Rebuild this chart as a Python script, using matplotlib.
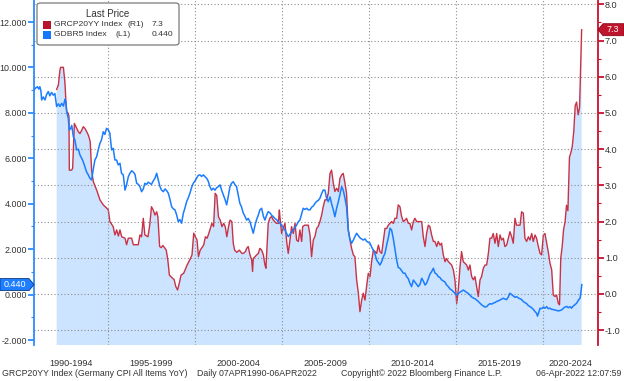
import matplotlib
matplotlib.use("Agg")
import matplotlib.pyplot as plt
from matplotlib.patches import Polygon, FancyBboxPatch, Rectangle
from matplotlib.ticker import MultipleLocator, FixedLocator, FixedFormatter, NullFormatter, FuncFormatter

plt.rcParams['font.family'] = ['Liberation Sans', 'DejaVu Sans']

# GRCP20YY Index (Germany CPI YoY) - right axis
cpi_year = [1992.05, 1992.15, 1992.24, 1992.28, 1992.44, 1992.53, 1992.59, 1992.63, 1992.72, 1992.76,
            1992.78, 1992.91, 1992.97, 1993.07, 1993.16, 1993.30, 1993.39, 1993.49, 1993.58, 1993.68,
            1993.78, 1993.87, 1993.93, 1993.98, 1994.06, 1994.16, 1994.35, 1994.54, 1994.73, 1994.93,
            1995.02, 1995.11, 1995.30, 1995.40, 1995.50, 1995.60, 1995.69, 1995.79, 1995.98, 1996.07,
            1996.17, 1996.36, 1996.46, 1996.74, 1996.84, 1996.93, 1997.03, 1997.12, 1997.30, 1997.40,
            1997.50, 1997.60, 1997.70, 1997.80, 1997.87, 1997.97, 1998.06, 1998.15, 1998.25, 1998.35,
            1998.44, 1998.53, 1998.72, 1998.80, 1998.90, 1999.00, 1999.10, 1999.20, 1999.35, 1999.55,
            1999.74, 1999.83, 1999.93, 2000.02, 2000.12, 2000.20, 2000.30, 2000.50, 2000.60, 2000.70,
            2000.80, 2000.88, 2000.97, 2001.07, 2001.16, 2001.25, 2001.35, 2001.45, 2001.55, 2001.65,
            2001.74, 2001.83, 2001.93, 2002.02, 2002.12, 2002.20, 2002.28, 2002.40, 2002.55, 2002.70,
            2002.78, 2002.90, 2002.97, 2003.06, 2003.16, 2003.26, 2003.31, 2003.35, 2003.45, 2003.55,
            2003.64, 2003.73, 2003.83, 2003.93, 2004.02, 2004.08, 2004.12, 2004.21, 2004.30, 2004.40,
            2004.50, 2004.60, 2004.69, 2004.79, 2004.85, 2004.88, 2004.98, 2005.07, 2005.17, 2005.27,
            2005.36, 2005.46, 2005.55, 2005.65, 2005.75, 2005.84, 2005.94, 2006.03, 2006.13, 2006.19,
            2006.30, 2006.42, 2006.51, 2006.61, 2006.70, 2006.80, 2006.90, 2006.99, 2007.08, 2007.18,
            2007.28, 2007.37, 2007.47, 2007.56, 2007.66, 2007.76, 2007.85, 2007.95, 2008.04, 2008.14,
            2008.24, 2008.33, 2008.43, 2008.52, 2008.62, 2008.71, 2008.81, 2008.91, 2009.00, 2009.10,
            2009.19, 2009.29, 2009.39, 2009.48, 2009.58, 2009.67, 2009.77, 2009.86, 2009.96, 2010.06,
            2010.15, 2010.25, 2010.35, 2010.44, 2010.54, 2010.63, 2010.73, 2010.82, 2010.92, 2011.02,
            2011.11, 2011.20, 2011.30, 2011.40, 2011.49, 2011.59, 2011.68, 2011.78, 2011.87, 2011.97,
            2012.07, 2012.16, 2012.26, 2012.35, 2012.45, 2012.55, 2012.64, 2012.74, 2012.84, 2012.93,
            2013.03, 2013.12, 2013.22, 2013.31, 2013.41, 2013.50, 2013.60, 2013.70, 2013.79, 2013.89,
            2013.98, 2014.08, 2014.17, 2014.27, 2014.37, 2014.46, 2014.56, 2014.65, 2014.75, 2014.85,
            2014.94, 2015.04, 2015.13, 2015.23, 2015.32, 2015.42, 2015.51, 2015.61, 2015.71, 2015.80,
            2015.90, 2016.00, 2016.09, 2016.19, 2016.28, 2016.38, 2016.47, 2016.57, 2016.67, 2016.76,
            2016.86, 2016.95, 2017.05, 2017.14, 2017.24, 2017.34, 2017.43, 2017.53, 2017.62, 2017.72,
            2017.81, 2017.91, 2018.01, 2018.10, 2018.20, 2018.29, 2018.39, 2018.48, 2018.58, 2018.68,
            2018.77, 2018.87, 2018.96, 2019.06, 2019.16, 2019.25, 2019.35, 2019.44, 2019.54, 2019.63,
            2019.73, 2019.83, 2019.92, 2020.02, 2020.11, 2020.21, 2020.30, 2020.40, 2020.50, 2020.59,
            2020.69, 2020.78, 2020.88, 2020.95, 2021.02, 2021.10, 2021.18, 2021.27, 2021.35, 2021.43,
            2021.52, 2021.60, 2021.68, 2021.77, 2021.85, 2021.93, 2022.02, 2022.10, 2022.22]
cpi_yoy = [5.65, 5.77, 6.18, 6.26, 6.26, 5.82, 5.26, 5.03, 4.99, 4.90,
           3.42, 3.42, 3.47, 4.71, 4.62, 4.48, 4.43, 4.52, 4.62, 4.57,
           4.48, 4.39, 4.30, 4.20, 3.42, 3.10, 2.87, 2.60, 2.46, 2.37,
           2.32, 2.00, 1.86, 1.63, 1.77, 1.60, 1.77, 1.58, 1.54, 1.36,
           1.54, 1.54, 1.36, 1.36, 1.63, 1.58, 2.09, 1.63, 1.58, 1.90,
           2.41, 2.32, 2.18, 2.27, 2.13, 1.31, 1.28, 1.34, 1.28, 1.21,
           0.94, 0.52, 0.43, 0.40, 0.20, 0.11, 0.30, 0.52, 0.57, 0.80,
           0.98, 1.08, 1.68, 1.58, 1.49, 1.03, 1.21, 1.35, 1.58, 1.54,
           1.68, 1.81, 1.95, 1.86, 2.78, 2.72, 2.13, 2.04, 1.86, 1.95,
           1.86, 1.58, 1.86, 2.04, 2.00, 1.40, 1.21, 1.15, 1.21, 1.12,
           1.12, 1.17, 1.26, 1.31, 1.08, 0.94, 0.62, 0.98, 1.03, 1.08,
           1.12, 1.26, 1.21, 1.08, 0.80, 0.71, 1.12, 1.95, 2.09, 2.14,
           2.04, 1.99, 1.95, 1.95, 2.32, 2.14, 1.67, 1.81, 1.95, 1.45,
           1.12, 1.49, 1.86, 1.67, 1.95, 1.49, 1.45, 1.77, 1.45, 1.86,
           1.90, 1.90, 1.90, 1.63, 1.03, 1.49, 1.60, 1.81, 1.86, 2.00,
           2.18, 2.41, 2.60, 2.60, 2.78, 3.33, 3.42, 3.06, 2.83, 2.92,
           2.83, 3.19, 3.29, 3.33, 3.06, 2.78, 1.77, 1.49, 1.26, 1.08,
           1.03, 0.39, 0.02, -0.49, -0.17, 0.02, -0.17, 0.20, 0.57, 0.48,
           0.89, 1.21, 1.17, 1.12, 1.35, 1.17, 1.12, 1.45, 1.81, 1.81,
           1.90, 1.95, 2.00, 1.95, 2.09, 2.09, 2.46, 2.41, 2.15, 2.00,
           2.04, 2.09, 1.95, 1.95, 1.77, 2.00, 2.09, 2.00, 2.00, 2.00,
           2.00, 1.58, 1.31, 1.67, 1.90, 1.86, 1.63, 1.45, 1.45, 1.31,
           1.45, 1.35, 1.40, 1.08, 0.89, 0.98, 0.89, 0.85, 0.80, 0.66,
           0.39, -0.26, 0.11, 0.75, 1.17, 0.89, 0.85, 0.80, 0.66, 0.80,
           0.48, 0.39, 0.48, 0.20, -0.07, 0.39, 0.48, 0.71, 0.80, 0.80,
           1.12, 1.54, 1.54, 1.67, 1.40, 1.67, 1.31, 1.63, 1.49, 1.54,
           1.31, 1.35, 1.54, 1.72, 1.58, 1.40, 2.09, 1.90, 1.90, 1.90,
           2.27, 2.23, 1.54, 1.45, 1.58, 1.49, 1.67, 1.45, 1.63, 1.54,
           1.31, 1.12, 1.08, 1.63, 1.67, 1.40, 1.17, 0.85, 0.66, -0.03,
           -0.07, -0.03, -0.26, -0.30, 0.99, 1.30, 1.77, 2.00, 2.45, 2.30,
           3.78, 3.90, 4.07, 4.50, 5.20, 5.30, 4.95, 5.15, 7.30]

# GDBR5 Index (German 5Y yield) - left axis
bund_year = [1990.75, 1990.85, 1990.95, 1991.02, 1991.09, 1991.15, 1991.19, 1991.28, 1991.38, 1991.47,
             1991.57, 1991.66, 1991.76, 1991.86, 1991.95, 1992.05, 1992.15, 1992.24, 1992.34, 1992.44,
             1992.53, 1992.58, 1992.63, 1992.72, 1992.78, 1992.85, 1992.92, 1993.01, 1993.10, 1993.20,
             1993.30, 1993.39, 1993.49, 1993.58, 1993.68, 1993.77, 1993.87, 1993.96, 1994.06, 1994.15,
             1994.25, 1994.35, 1994.44, 1994.54, 1994.63, 1994.73, 1994.82, 1994.92, 1995.02, 1995.11,
             1995.21, 1995.30, 1995.40, 1995.50, 1995.59, 1995.69, 1995.78, 1995.88, 1995.98, 1996.07,
             1996.17, 1996.26, 1996.36, 1996.45, 1996.55, 1996.65, 1996.75, 1996.84, 1996.93, 1997.03,
             1997.12, 1997.22, 1997.31, 1997.41, 1997.50, 1997.60, 1997.70, 1997.80, 1997.89, 1997.99,
             1998.08, 1998.18, 1998.28, 1998.37, 1998.47, 1998.56, 1998.66, 1998.75, 1998.85, 1998.95,
             1999.04, 1999.13, 1999.23, 1999.33, 1999.42, 1999.52, 1999.61, 1999.71, 1999.80, 1999.90,
             2000.00, 2000.09, 2000.19, 2000.29, 2000.38, 2000.48, 2000.57, 2000.67, 2000.76, 2000.86,
             2000.95, 2001.05, 2001.15, 2001.24, 2001.34, 2001.44, 2001.53, 2001.63, 2001.72, 2001.82,
             2001.91, 2002.01, 2002.10, 2002.20, 2002.29, 2002.39, 2002.48, 2002.58, 2002.68, 2002.77,
             2002.87, 2002.97, 2003.06, 2003.16, 2003.26, 2003.35, 2003.45, 2003.54, 2003.64, 2003.73,
             2003.83, 2003.93, 2004.02, 2004.12, 2004.21, 2004.31, 2004.40, 2004.50, 2004.59, 2004.69,
             2004.78, 2004.88, 2004.97, 2005.07, 2005.17, 2005.26, 2005.36, 2005.45, 2005.55, 2005.65,
             2005.74, 2005.84, 2005.93, 2006.03, 2006.13, 2006.22, 2006.32, 2006.42, 2006.51, 2006.61,
             2006.71, 2006.80, 2006.90, 2006.99, 2007.09, 2007.18, 2007.28, 2007.37, 2007.47, 2007.56,
             2007.66, 2007.76, 2007.85, 2007.95, 2008.04, 2008.14, 2008.24, 2008.33, 2008.43, 2008.52,
             2008.62, 2008.71, 2008.81, 2008.90, 2009.00, 2009.10, 2009.19, 2009.29, 2009.38, 2009.48,
             2009.57, 2009.67, 2009.77, 2009.86, 2009.96, 2010.06, 2010.15, 2010.25, 2010.34, 2010.44,
             2010.54, 2010.63, 2010.73, 2010.82, 2010.92, 2011.02, 2011.11, 2011.21, 2011.30, 2011.40,
             2011.49, 2011.59, 2011.68, 2011.78, 2011.88, 2011.97, 2012.07, 2012.16, 2012.26, 2012.35,
             2012.45, 2012.55, 2012.64, 2012.74, 2012.83, 2012.93, 2013.03, 2013.12, 2013.22, 2013.31,
             2013.41, 2013.50, 2013.60, 2013.70, 2013.79, 2013.89, 2013.98, 2014.08, 2014.17, 2014.27,
             2014.37, 2014.46, 2014.56, 2014.65, 2014.75, 2014.85, 2014.94, 2015.04, 2015.13, 2015.23,
             2015.32, 2015.42, 2015.51, 2015.61, 2015.70, 2015.80, 2015.89, 2015.99, 2016.09, 2016.19,
             2016.28, 2016.38, 2016.47, 2016.57, 2016.66, 2016.76, 2016.86, 2016.95, 2017.05, 2017.14,
             2017.24, 2017.34, 2017.43, 2017.53, 2017.62, 2017.72, 2017.81, 2017.91, 2018.01, 2018.10,
             2018.20, 2018.29, 2018.39, 2018.48, 2018.58, 2018.68, 2018.77, 2018.87, 2018.96, 2019.06,
             2019.15, 2019.25, 2019.35, 2019.44, 2019.54, 2019.63, 2019.68, 2019.73, 2019.83, 2019.92,
             2020.02, 2020.11, 2020.21, 2020.30, 2020.40, 2020.50, 2020.59, 2020.69, 2020.78, 2020.88,
             2020.97, 2021.07, 2021.17, 2021.26, 2021.36, 2021.45, 2021.55, 2021.64, 2021.74, 2021.83,
             2021.93, 2022.03, 2022.13, 2022.18, 2022.21, 2022.23]
bund_yield = [9.01, 9.10, 9.15, 9.05, 9.15, 8.95, 8.57, 8.70, 8.57, 8.80,
              8.94, 8.75, 8.90, 8.78, 8.85, 8.28, 8.40, 8.28, 8.42, 8.30,
              8.60, 8.50, 8.05, 7.76, 7.25, 7.30, 7.45, 6.95, 6.81, 6.37,
              6.40, 6.15, 6.00, 5.85, 5.62, 5.40, 5.27, 5.12, 5.05, 5.49,
              5.93, 6.07, 6.37, 6.66, 6.81, 7.17, 7.05, 7.32, 7.25, 7.10,
              6.37, 6.44, 5.93, 5.92, 5.71, 5.78, 5.34, 5.27, 4.60, 4.83,
              5.19, 5.34, 5.45, 5.40, 5.30, 4.90, 4.85, 4.75, 4.53, 4.65,
              4.90, 4.85, 4.95, 4.90, 4.85, 5.00, 5.12, 5.34, 5.05, 4.75,
              4.60, 4.53, 4.65, 4.58, 4.46, 4.20, 3.87, 3.78, 3.73, 3.50,
              3.21, 3.30, 3.14, 3.58, 3.80, 4.09, 4.25, 4.46, 4.70, 4.90,
              5.00, 5.12, 5.25, 5.27, 5.20, 5.27, 5.20, 5.12, 5.00, 4.75,
              4.60, 4.68, 4.60, 4.70, 4.75, 4.83, 4.60, 4.39, 4.20, 3.95,
              4.31, 4.75, 4.90, 4.97, 4.85, 4.75, 4.40, 4.02, 3.85, 3.60,
              3.45, 3.28, 3.35, 3.21, 2.95, 2.70, 3.05, 3.30, 3.50, 3.73,
              3.80, 3.45, 3.28, 3.50, 3.65, 3.60, 3.50, 3.43, 3.35, 3.30,
              3.20, 3.14, 3.05, 2.95, 2.84, 2.70, 2.55, 2.65, 2.75, 2.84,
              2.95, 3.06, 3.20, 3.28, 3.55, 3.80, 3.75, 3.80, 3.73, 3.73,
              3.85, 3.90, 4.02, 4.10, 4.15, 4.24, 4.45, 4.60, 4.60, 4.25,
              4.09, 4.30, 4.00, 3.73, 3.43, 3.80, 4.09, 4.40, 4.75, 4.60,
              4.24, 3.87, 2.84, 2.45, 2.26, 2.40, 2.55, 2.70, 2.60, 2.50,
              2.45, 2.40, 2.45, 2.35, 2.30, 2.26, 2.10, 1.95, 1.80, 1.52,
              1.40, 1.30, 1.45, 1.65, 1.82, 2.20, 2.50, 2.92, 2.84, 2.45,
              2.00, 1.52, 1.20, 1.15, 1.05, 0.94, 0.94, 0.79, 0.70, 0.50,
              0.35, 0.64, 0.55, 0.45, 0.35, 0.45, 0.72, 0.60, 0.42, 0.50,
              0.70, 0.90, 1.01, 1.16, 0.95, 0.90, 0.79, 0.75, 0.65, 0.60,
              0.55, 0.42, 0.35, 0.25, 0.20, 0.13, 0.05, -0.02, 0.05, 0.10,
              0.15, 0.20, 0.15, 0.10, 0.05, -0.02, -0.10, -0.15, -0.18, -0.24,
              -0.30, -0.38, -0.45, -0.50, -0.55, -0.53, -0.45, -0.40, -0.42, -0.38,
              -0.35, -0.30, -0.28, -0.24, -0.20, -0.16, -0.20, -0.22, -0.10, 0.06,
              0.00, -0.05, -0.12, -0.09, -0.15, -0.18, -0.22, -0.31, -0.35, -0.40,
              -0.48, -0.53, -0.58, -0.65, -0.75, -0.82, -0.95, -0.85, -0.60, -0.62,
              -0.55, -0.60, -0.53, -0.62, -0.60, -0.65, -0.66, -0.68, -0.70, -0.72,
              -0.70, -0.68, -0.60, -0.55, -0.52, -0.58, -0.53, -0.60, -0.50, -0.45,
              -0.38, -0.25, -0.16, 0.10, 0.30, 0.44]

cpi_last = 7.3
bund_last = 0.440
period_edges = [1995, 2000, 2005, 2010, 2015, 2020]
period_labels = ['1990-1994', '1995-1999', '2000-2004', '2005-2009', '2010-2014', '2015-2019', '2020-2024']

W, H = 624, 381
RED_LINE = '#C83246'
RED_AXIS = '#C8102E'
BLUE_LINE = '#1A7CFF'
BLUE_AXIS = '#2E8BFF'
FILL = '#CCE4FF'
GRID = '#8E8E8E'
TXT = '#333333'


def px(x, y):
    # pixel position (from top-left) -> figure fraction
    return x / W, 1 - y / H


fig = plt.figure(figsize=(W / 100, H / 100), dpi=100)
ax_l = fig.add_axes([34 / W, 1 - 345 / H, (598 - 34) / W, 345 / H])
ax_r = ax_l.twinx()

# red series + fill sit underneath the blue line
ax_l.set_zorder(2)
ax_r.set_zorder(1)
ax_l.patch.set_visible(False)
ax_r.patch.set_visible(True)
ax_r.patch.set_facecolor('white')

x0, x1 = 1990.75, 2023.16
ax_l.set_xlim(x0, x1)
ax_l.set_ylim(-2.22, 12.97)
ax_r.set_ylim(-1.41, 8.12)

ax_r.fill_between(cpi_year, cpi_yoy, -5, color=FILL, lw=0, zorder=0.2)
ax_r.plot(cpi_year, cpi_yoy, color=RED_LINE, lw=1.0, zorder=2)
ax_l.plot(bund_year, bund_yield, color=BLUE_LINE, lw=1.1, zorder=3)

# spines
for s in ['top', 'bottom', 'right']:
    ax_l.spines[s].set_visible(False)
for s in ['top', 'bottom', 'left']:
    ax_r.spines[s].set_visible(False)
ax_l.spines['left'].set_color(BLUE_AXIS)
ax_l.spines['left'].set_linewidth(1.3)
ax_r.spines['right'].set_color(RED_AXIS)
ax_r.spines['right'].set_linewidth(1.3)

# left axis ticks
ax_l.yaxis.set_major_locator(MultipleLocator(2))
ax_l.yaxis.set_minor_locator(MultipleLocator(1))
ax_l.yaxis.set_major_formatter(FuncFormatter(lambda v, p: f"{v:.3f}"))
ax_l.tick_params(axis='y', which='major', length=4, width=1.3, color=BLUE_AXIS,
                 labelcolor=TXT, labelsize=6.4, pad=1)
ax_l.tick_params(axis='y', which='minor', length=2.5, width=0.8, color=BLUE_AXIS)

# right axis ticks
ax_r.yaxis.set_major_locator(MultipleLocator(1))
ax_r.yaxis.set_minor_locator(MultipleLocator(0.5))
ax_r.yaxis.set_major_formatter(FuncFormatter(lambda v, p: f"{v:.1f}"))
ax_r.tick_params(axis='y', which='major', length=4, width=1.3, color=RED_AXIS,
                 labelcolor=TXT, labelsize=6.6, pad=1)
ax_r.tick_params(axis='y', which='minor', length=2.5, width=0.8, color=RED_AXIS)
ax_r.yaxis.grid(True, which='major', color=GRID, linestyle=(0, (1, 2)), lw=0.8)
ax_r.set_axisbelow(True)

# x axis: grid at period boundaries, labels centred in each period
edges = [x0] + period_edges + [x1]
mids = [(a + b) / 2 for a, b in zip(edges[:-1], edges[1:])]
ax_l.xaxis.set_major_locator(FixedLocator(period_edges))
ax_l.xaxis.set_major_formatter(NullFormatter())
ax_l.xaxis.set_minor_locator(FixedLocator(mids))
ax_l.xaxis.set_minor_formatter(FixedFormatter(period_labels))
ax_l.tick_params(axis='x', which='both', length=0, labelsize=6.6, labelcolor=TXT, pad=10)
ax_l.xaxis.grid(True, which='major', color=GRID, linestyle=(0, (1, 2)), lw=0.8)
ax_l.set_axisbelow(True)

# legend box
box = FancyBboxPatch(px(37, 45), 142 / W, 42 / H, boxstyle='round,pad=0,rounding_size=0.006',
                     transform=fig.transFigure, facecolor='white', edgecolor='#7a7a7a', lw=0.9, zorder=10)
fig.add_artist(box)
fig.text(*px(108, 14), 'Last Price', ha='center', va='center', fontsize=7, color=TXT, zorder=11)
fig.add_artist(Rectangle(px(43, 28.5), 8 / W, 8 / H, transform=fig.transFigure,
                         facecolor='#B8142E', edgecolor='none', zorder=11))
fig.add_artist(Rectangle(px(43, 38.5), 8 / W, 8 / H, transform=fig.transFigure,
                         facecolor='#1478FF', edgecolor='none', zorder=11))
fs_leg = 6.1
fig.text(*px(54, 24.5), 'GRCP20YY Index', ha='left', va='center', fontsize=fs_leg, color=TXT, zorder=11)
fig.text(*px(127, 24.5), '(R1)', ha='left', va='center', fontsize=fs_leg, color=TXT, zorder=11)
fig.text(*px(152, 24.5), f'{cpi_last:.1f}', ha='left', va='center', fontsize=fs_leg, color=TXT, zorder=11)
fig.text(*px(54, 34.5), 'GDBR5 Index', ha='left', va='center', fontsize=fs_leg, color=TXT, zorder=11)
fig.text(*px(116, 34.5), '(L1)', ha='left', va='center', fontsize=fs_leg, color=TXT, zorder=11)
fig.text(*px(152, 34.5), f'{bund_last:.3f}', ha='left', va='center', fontsize=fs_leg, color=TXT, zorder=11)

# last value tags on both axes
yr = H - ax_r.transData.transform((0, cpi_last))[1]
yl = H - ax_l.transData.transform((0, bund_last))[1]
tag_r = [(598, yr), (603, yr - 6), (624, yr - 6), (624, yr + 6), (603, yr + 6)]
tag_l = [(34, yl), (29, yl - 6), (0, yl - 6), (0, yl + 6), (29, yl + 6)]
fig.add_artist(Polygon([px(*p) for p in tag_r], closed=True, transform=fig.transFigure,
                       facecolor='#C0142C', edgecolor='#8a0a1c', lw=0.6, zorder=10))
fig.add_artist(Polygon([px(*p) for p in tag_l], closed=True, transform=fig.transFigure,
                       facecolor='#1E7EFF', edgecolor='#0a3a80', lw=0.6, zorder=10))
fig.text(*px(613, yr), f'{cpi_last:.1f}', ha='center', va='center', fontsize=6.5, color='white', zorder=11)
fig.text(*px(15, yl), f'{bund_last:.3f}', ha='center', va='center', fontsize=6.5, color='white', zorder=11)

# footer
fig.text(*px(2, 373), 'GRCP20YY Index (Germany CPI All Items YoY)', ha='left', va='center', fontsize=6.3, color=TXT)
fig.text(*px(197, 373), 'Daily 07APR1990-06APR2022', ha='left', va='center', fontsize=6.3, color=TXT)
fig.text(*px(341, 373), 'Copyright\u00a9 2022 Bloomberg Finance L.P.', ha='left', va='center', fontsize=6.3, color=TXT)
fig.text(*px(621, 373), '06-Apr-2022 12:07:59', ha='right', va='center', fontsize=6.3, color=TXT)

fig.savefig('out.png', dpi=100)
